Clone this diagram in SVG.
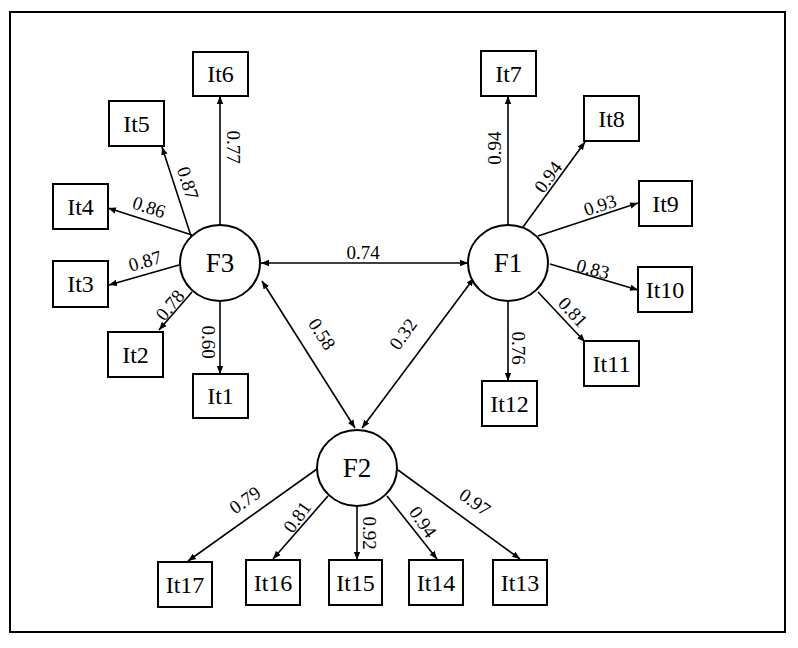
<svg xmlns="http://www.w3.org/2000/svg" width="798" height="648" viewBox="0 0 798 648" font-family="'Liberation Serif', 'Times New Roman', Times, serif">
<style>
text{font-family:'Liberation Serif','Times New Roman',Times,serif;text-anchor:middle;dominant-baseline:central}
.b{fill:#fff;stroke:#000;stroke-width:2}
.t{font-size:24px}
.f{font-size:27px}
.l{font-size:19px}
.c line{stroke:#000;stroke-width:1.6;marker-end:url(#a)}
.c line.d{marker-start:url(#s)}
</style>
<defs>
<marker id="a" viewBox="0 0 10 10" refX="10" refY="5" markerWidth="8" markerHeight="8" markerUnits="userSpaceOnUse" orient="auto"><path d="M0,1 L10,5 L0,9 z"/></marker>
<marker id="s" viewBox="0 0 10 10" refX="0" refY="5" markerWidth="8" markerHeight="8" markerUnits="userSpaceOnUse" orient="auto"><path d="M10,1 L0,5 L10,9 z"/></marker>
</defs>
<rect x="0" y="0" width="798" height="648" fill="#fff"/>
<rect x="10" y="12" width="775" height="620" fill="none" stroke="#000" stroke-width="2"/>
<g class="c" id="connectors">
<line x1="220" y1="225" x2="220" y2="96"/>
<line x1="191" y1="236" x2="162" y2="147"/>
<line x1="192" y1="235" x2="108" y2="208"/>
<line x1="179" y1="265" x2="109" y2="285"/>
<line x1="192" y1="292" x2="159" y2="330"/>
<line x1="220" y1="301" x2="220" y2="374"/>
<line x1="508" y1="225" x2="508" y2="96"/>
<line x1="523" y1="227" x2="585" y2="142"/>
<line x1="538" y1="236" x2="638" y2="203"/>
<line x1="550" y1="264" x2="638" y2="290"/>
<line x1="538" y1="292" x2="585" y2="342"/>
<line x1="508" y1="301" x2="508" y2="381"/>
<line x1="317" y1="469" x2="188" y2="561"/>
<line x1="328" y1="496" x2="273" y2="559"/>
<line x1="357" y1="506" x2="357" y2="560"/>
<line x1="387" y1="496" x2="437" y2="559"/>
<line x1="398" y1="470" x2="520" y2="559"/>
<line class="d" x1="261" y1="263" x2="468" y2="263"/>
<line class="d" x1="262" y1="281" x2="355" y2="428"/>
<line class="d" x1="474" y1="278" x2="362" y2="428"/>
</g>
<g id="labels">
<text class="l" x="233" y="147" transform="rotate(90 233 147)">0.77</text>
<text class="l" x="188" y="183" transform="rotate(72 188 183)">0.87</text>
<text class="l" x="149" y="207" transform="rotate(18 149 207)">0.86</text>
<text class="l" x="145" y="261" transform="rotate(-16 145 261)">0.87</text>
<text class="l" x="170" y="305" transform="rotate(-50 170 305)">0.78</text>
<text class="l" x="208" y="342" transform="rotate(90 208 342)">0.60</text>
<text class="l" x="494" y="148" transform="rotate(-90 494 148)">0.94</text>
<text class="l" x="548" y="177" transform="rotate(-54 548 177)">0.94</text>
<text class="l" x="600" y="205" transform="rotate(-18 600 205)">0.93</text>
<text class="l" x="593" y="269" transform="rotate(15 593 269)">0.83</text>
<text class="l" x="573" y="312" transform="rotate(47 573 312)">0.81</text>
<text class="l" x="518" y="348" transform="rotate(90 518 348)">0.76</text>
<text class="l" x="245" y="500" transform="rotate(-35 245 500)">0.79</text>
<text class="l" x="297" y="517" transform="rotate(-55 297 517)">0.81</text>
<text class="l" x="369" y="533" transform="rotate(90 369 533)">0.92</text>
<text class="l" x="423" y="522" transform="rotate(55 423 522)">0.94</text>
<text class="l" x="475" y="502" transform="rotate(35 475 502)">0.97</text>
<text class="l" x="363" y="252">0.74</text>
<text class="l" x="322" y="334" transform="rotate(57 322 334)">0.58</text>
<text class="l" x="403" y="334" transform="rotate(-55 403 334)">0.32</text>
</g>
<g id="F3"><ellipse class="b" cx="220" cy="263" rx="40" ry="38"/><text class="f" x="220" y="263">F3</text></g>
<g id="F1"><ellipse class="b" cx="508" cy="263" rx="40" ry="38"/><text class="f" x="508" y="263">F1</text></g>
<g id="F2"><ellipse class="b" cx="357" cy="468" rx="40" ry="38"/><text class="f" x="357" y="468">F2</text></g>
<g id="It6"><rect class="b" x="193" y="52" width="55" height="44"/><text class="t" x="220.5" y="74">It6</text></g>
<g id="It5"><rect class="b" x="109" y="101" width="55" height="45"/><text class="t" x="136.5" y="123.5">It5</text></g>
<g id="It4"><rect class="b" x="53" y="184" width="55" height="45"/><text class="t" x="80.5" y="206.5">It4</text></g>
<g id="It3"><rect class="b" x="53" y="261" width="55" height="46"/><text class="t" x="80.5" y="284">It3</text></g>
<g id="It2"><rect class="b" x="108" y="332" width="55" height="45"/><text class="t" x="135.5" y="354.5">It2</text></g>
<g id="It1"><rect class="b" x="193" y="374" width="55" height="44"/><text class="t" x="220.5" y="396">It1</text></g>
<g id="It7"><rect class="b" x="481" y="51" width="55" height="45"/><text class="t" x="508.5" y="73.5">It7</text></g>
<g id="It8"><rect class="b" x="584" y="96" width="55" height="45"/><text class="t" x="611.5" y="118.5">It8</text></g>
<g id="It9"><rect class="b" x="639" y="181" width="53" height="45"/><text class="t" x="665.5" y="203.5">It9</text></g>
<g id="It10"><rect class="b" x="638" y="267" width="54" height="45"/><text class="t" x="665" y="289.5">It10</text></g>
<g id="It11"><rect class="b" x="584" y="341" width="55" height="45"/><text class="t" x="611.5" y="363.5">It11</text></g>
<g id="It12"><rect class="b" x="482" y="381" width="55" height="45"/><text class="t" x="509.5" y="403.5">It12</text></g>
<g id="It17"><rect class="b" x="158" y="562" width="54" height="45"/><text class="t" x="185" y="584.5">It17</text></g>
<g id="It16"><rect class="b" x="246" y="560" width="54" height="45"/><text class="t" x="273" y="582.5">It16</text></g>
<g id="It15"><rect class="b" x="329" y="560" width="53" height="45"/><text class="t" x="355.5" y="582.5">It15</text></g>
<g id="It14"><rect class="b" x="409" y="560" width="54" height="45"/><text class="t" x="436" y="582.5">It14</text></g>
<g id="It13"><rect class="b" x="493" y="560" width="54" height="45"/><text class="t" x="520" y="582.5">It13</text></g>
</svg>
